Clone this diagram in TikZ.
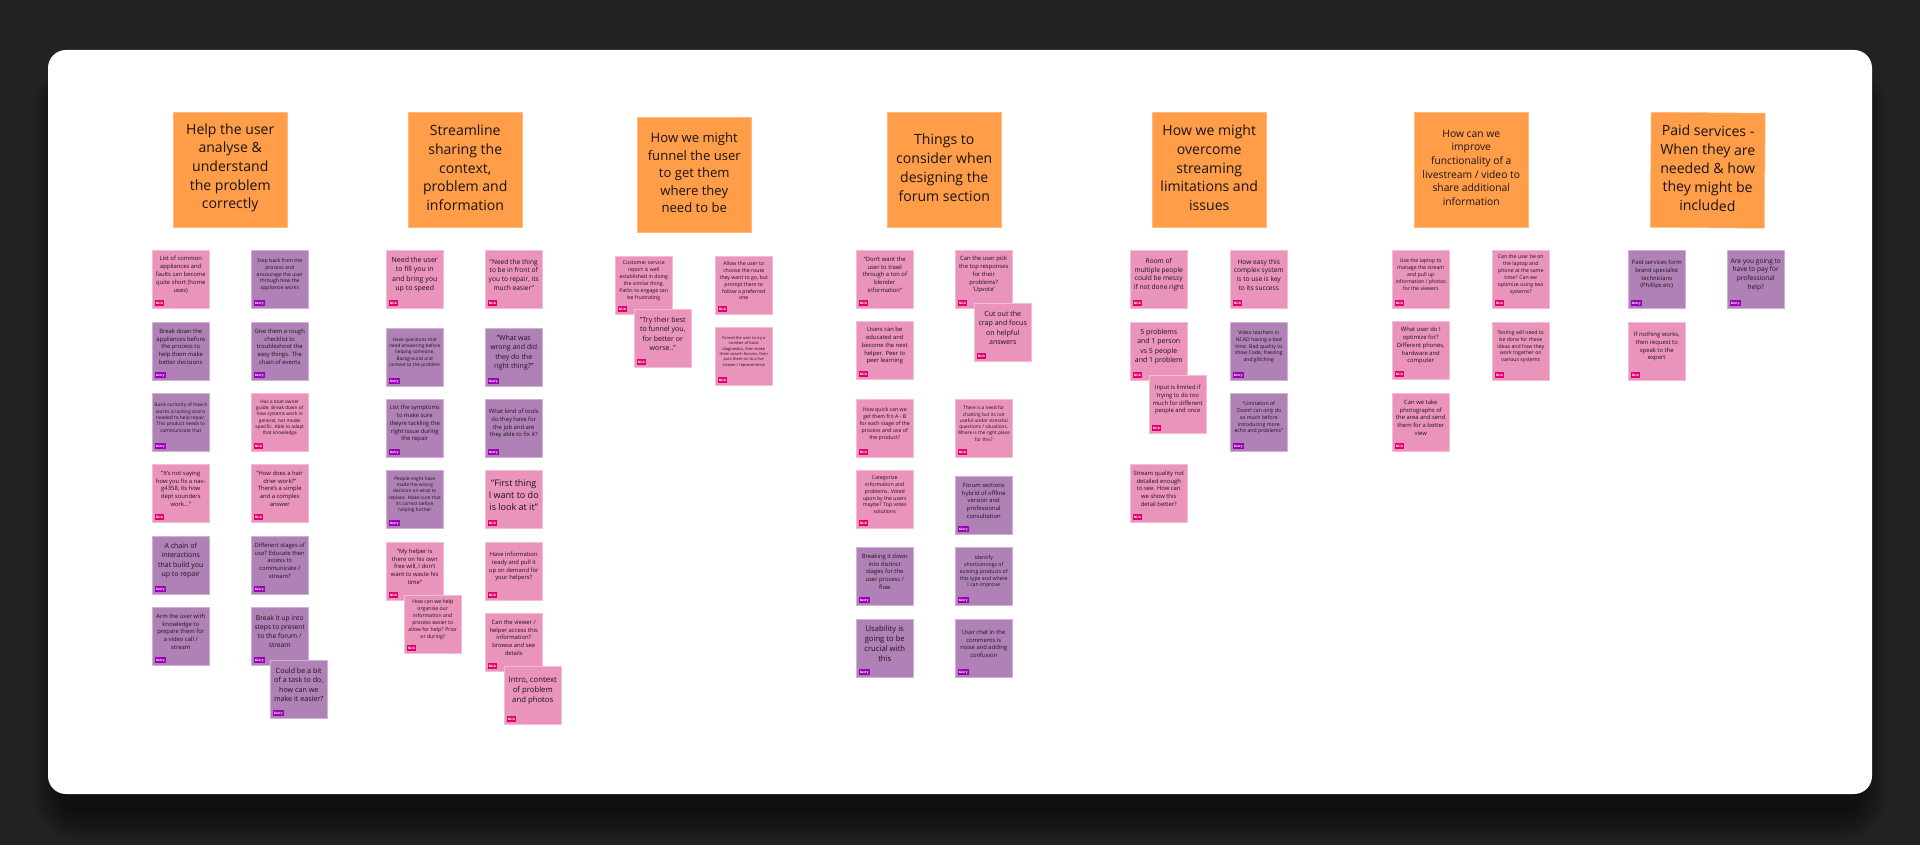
\documentclass[tikz,border=0pt]{standalone}
\usepackage{fontspec}
\setmainfont{Open Sans}

\definecolor{board}{HTML}{222222}
\definecolor{ink}{HTML}{1A1416}
\definecolor{headerfill}{HTML}{FF9D48}
\definecolor{Nickcard}{HTML}{EA93BB}
\definecolor{Gerrycard}{HTML}{B081B7}
\definecolor{Nicktag}{HTML}{E2006F}
\definecolor{Gerrytag}{HTML}{9A00B5}

\tikzset{
    header/.style={anchor=north west, fill=headerfill, draw=headerfill!70!white, line width=0.5pt,
        minimum width=114pt, minimum height=115pt, inner sep=0pt},
    card/.style={anchor=north west, fill=#1card, draw=#1card!60!white, line width=0.5pt,
        minimum width=57pt, minimum height=58pt, inner sep=0pt},
    cardtext/.style={align=center, inner sep=0pt, text=ink},
    tagbox/.style={anchor=south west, fill=#1tag, text=white, inner xsep=1.1pt, inner ysep=0pt,
        minimum height=6pt, font=\fontsize{3.2}{4}\selectfont\bfseries}
}

\begin{document}
\begin{tikzpicture}[x=1pt, y=-1pt]
    \useasboundingbox (0,0) rectangle (1920,845);
    \fill[board] (0,0) rectangle (1920,845);

    % Soft shadow under the board
    \foreach \d in {28,24,...,0}
        \fill[black, opacity=0.08, rounded corners=18+\d] (62-\d,90-\d) rectangle (1858+\d,812+\d);

    % White board
    \fill[white, rounded corners=18] (48,50) rectangle (1872,794);

    % Column headers
    \foreach \id/\x/\y/\ls/\rot/\txt [evaluate=\ls as \fs using \ls/1.33] in {
        h1/173/112/18.7/0/{Help the user\\analyse \&\\understand\\the problem\\correctly},
        h2/408/112/18.7/0/{Streamline\\sharing the\\context,\\problem and\\information},
        h3/637/117/17.4/0/{How we might\\funnel the user\\to get them\\where they\\need to be},
        h4/887/112/18.7/0/{Things to\\consider when\\designing the\\forum section},
        h5/1152/112/18.7/0/{How we might\\overcome\\streaming\\limitations and\\issues},
        h6/1414/112/13.7/0/{How can we\\improve\\functionality of a\\livestream / video to\\share additional\\information},
        h7/1651/112/18.7/-0.5/{Paid services -\\When they are\\needed \& how\\they might be\\included}}
    {
        \node[header, rotate=\rot] (\id) at (\x,\y) {};
        \node[cardtext, rotate=\rot, font=\fontsize{\fs}{\ls}\selectfont] (\id text) at ([yshift=2pt]\id.center) {\txt};
    }

    % Sticky notes
    \foreach \id/\x/\y/\who/\ls/\txt [evaluate=\ls as \fs using \ls/1.33] in {
        % Column 1
        a1/152/250/Nick/7.8/{List of common\\appliances and\\faults can become\\quite short (home\\uses)},
        a2/152/322/Gerry/7.8/{Break down the\\appliances before\\the process to\\help them make\\better decisions},
        a3/152/393/Gerry/6.4/{Basic curiosity of how it\\works is lacking and is\\needed to help repair.\\This product needs to\\communicate that},
        a4/152/464/Nick/7.8/{"It's not saying\\how you fix a nav-\\g4358, its how\\dept sounders\\work..."},
        a5/152/536/Gerry/9.3/{A chain of\\interactions\\that build you\\up to repair},
        a6/152/607/Gerry/7.8/{Arm the user with\\knowledge to\\prepare them for\\a video call /\\stream},
        b1/251/250/Gerry/6.8/{Step back from the\\process and\\encourage the user\\through how the\\appliance works},
        b2/251/322/Gerry/7.8/{Give them a rough\\checklist to\\troubleshoot the\\easy things. The\\chain of events},
        b3/251/393/Nick/6.3/{Has a boat owner\\guide. Break down of\\how systems work in\\general, not model\\specific. Able to adapt\\that knowledge},
        b4/251/464/Nick/7.8/{"How does a hair\\drier work?"\\There's a simple\\and a complex\\answer},
        b5/251/536/Gerry/7.8/{Different stages of\\use? Educate then\\access to\\communicate /\\stream?},
        b6/251/607/Gerry/8.9/{Break it up into\\steps to present\\to the forum /\\stream},
        b7/270/660/Gerry/9.5/{Could be a bit\\of a task to do,\\how can we\\make it easier?},
        % Column 2
        c1/386/250/Nick/9.3/{Need the user\\to fill you in\\and bring you\\up to speed},
        c2/386/328/Gerry/6.3/{Have questions that\\need answering before\\helping someone.\\Background and\\context to the problem},
        c3/386/399/Gerry/7.8/{List the symptoms\\to make sure\\theyre tackling the\\right issue during\\the repair},
        c4/386/470/Gerry/6.3/{People might have\\made the wrong\\decision on what to\\replace. Make sure that\\its correct before\\helping further},
        c5/386/542/Nick/7.8/{"My helper is\\there on his own\\free will, I don't\\want to waste his\\time"},
        c6/404/595/Nick/6.9/{How can we help\\organise our\\information and\\process easier to\\allow for help? Prior\\or during?},
        d1/485/250/Nick/8.8/{"Need the thing\\to be in front of\\you to repair, its\\much easier"},
        d2/485/328/Gerry/9.3/{"What was\\wrong and did\\they do the\\right thing?"},
        d3/485/399/Gerry/7.8/{What kind of tools\\do they have for\\the job and are\\they able to fix it?},
        d4/485/470/Nick/12/{"First thing\\I want to do\\is look at it"},
        d5/485/542/Nick/7.8/{Have information\\ready and pull it\\up on demand for\\your helpers?},
        d6/485/613/Nick/7.8/{Can the viewer /\\helper access this\\information?\\browse and see\\details},
        d7/504/666/Nick/10.3/{Intro, context\\of problem\\and photos},
        % Column 3
        e1/615/256/Nick/6.9/{Customer service\\report is well\\established in doing\\the similar thing,\\Paths to engage can\\be frustrating},
        e2/634/309/Nick/9.4/{"Try their best\\to funnel you,\\for better or\\worse.."},
        f1/715/256/Nick/6.9/{Allow the user to\\choose the route\\they want to go, but\\prompt them to\\follow a preferred\\one},
        f2/715/327/Nick/5.3/{Funnel the user to try a\\number of basic\\diagnostics, then make\\them search forums, then\\puts them on to a live\\stream / representitive},
        % Column 4
        g1/856/250/Nick/7.8/{"Don't want the\\user to trawl\\through a ton of\\blender\\information"},
        g2/856/321/Nick/7.8/{Users can be\\educated and\\become the next\\helper. Peer to\\peer learning},
        g3/856/399/Nick/7/{How quick can we\\get them fro A - B\\for each stage of the\\process and use of\\the product?},
        g4/856/470/Nick/6.9/{Categorize\\information and\\problems. Voted\\upon by the users\\maybe? Top votes\\solutions},
        g5/856/547/Gerry/7.8/{Breaking it down\\into distinct\\stages for the\\user process /\\flow},
        g6/856/619/Gerry/10.2/{Usability is\\going to be\\crucial with\\this},
        k1/955/250/Nick/7.8/{Can the user pick\\the top responses\\for their\\problems?\\'Upvote'},
        k2/974/303/Nick/9.4/{Cut out the\\crap and focus\\on helpful\\answers},
        k3/955/399/Nick/6.3/{There is a need for\\chatting but its not\\useful under stressful\\questions / situations.\\Where is the right place\\for this?},
        k4/955/476/Gerry/7.8/{Forum sections\\hybrid of offline\\version and\\professional\\consultation},
        k5/955/547/Gerry/6.9/{Identify\\shortcomings of\\existing products of\\this type and where\\I can improve},
        k6/955/619/Gerry/7.8/{User chat in the\\comments is\\noise and adding\\confusion},
        % Column 5
        m1/1130/250/Nick/8.8/{Room of\\multiple people\\could be messy\\if not done right},
        m2/1130/322/Nick/9.3/{5 problems\\and 1 person\\vs 5 people\\and 1 problem},
        m3/1149/375/Nick/7.8/{Input is limited if\\trying to do too\\much for different\\people and once},
        m4/1130/464/Nick/7.8/{Stream quality not\\detailed enough\\to see. How can\\we show this\\detail better?},
        n1/1230/250/Nick/8.8/{How easy this\\complex system\\is to use is key\\to its success},
        n2/1230/322/Gerry/6.8/{Video teachers in\\NCAD having a bad\\time. Bad quality to\\show Code, freezing\\and glitching},
        n3/1230/393/Gerry/6.9/{"Limitation of\\'Zoom' can only do\\so much before\\introducing more\\echo and problems"},
        % Column 6
        p1/1392/250/Nick/6.9/{Use the laptop to\\manage the stream\\and pull up\\information / photos\\for the viewers},
        p2/1392/321/Nick/7.8/{What user do I\\optimize for?\\Different phones,\\hardware and\\computer},
        p3/1392/393/Nick/7.8/{Can we take\\photographs of\\the area and send\\them for a better\\view},
        q1/1492/250/Nick/6.9/{Can the user be on\\the laptop and\\phone at the same\\time? Can we\\optimize using two\\systems?},
        q2/1492/322/Nick/6.9/{Testing will need to\\be done for these\\ideas and how they\\work together on\\various systems},
        % Column 7
        r1/1628/250/Gerry/7.8/{Paid services form\\brand specialist\\technicians\\(Phillips etc)},
        r2/1628/322/Nick/7.8/{If nothing works,\\then request to\\speak to the\\expert},
        s1/1727/250/Gerry/8.8/{Are you going to\\have to pay for\\professional\\help?}}
    {
        \node[card=\who] (\id) at (\x,\y) {};
        \node[cardtext, font=\fontsize{\fs}{\ls}\selectfont] (\id text) at ([yshift=4.5pt]\id.center) {\txt};
        \node[tagbox=\who] (\id tag) at ([xshift=2.5pt, yshift=2pt]\id.south west) {\who};
    }
\end{tikzpicture}
\end{document}
